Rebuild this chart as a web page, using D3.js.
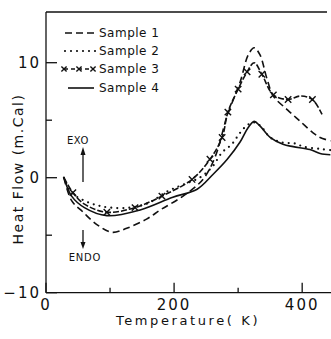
<!DOCTYPE html>
<html>
<head>
<meta charset="utf-8">
<script src="https://cdn.jsdelivr.net/npm/d3@7"></script>
<style>
  body { margin: 0; background: #fff; }
  svg text { font-family: "DejaVu Sans", sans-serif; fill: #111; }
</style>
</head>
<body>
<div id="chart"></div>
<script>
// temperatures (K) and heat flow (m.Cal)
let temp1 = [28, 40, 58, 80, 103, 126, 157, 180, 214, 245, 264, 283, 303, 316, 325, 334, 345, 355, 377, 397, 417, 428, 444];
let flow1 = [0, -2.0, -3.0, -4.1, -4.75, -4.4, -3.6, -2.75, -1.6, -0.15, 1.8, 5.4, 8.3, 10.7, 11.3, 10.7, 8.6, 7.1, 5.9, 4.9, 3.9, 3.5, 3.2];

let temp2 = [28, 40, 60, 80, 100, 130, 160, 189, 214, 240, 259, 275, 290, 303, 315, 325, 335, 350, 368, 389, 402, 428, 444];
let flow2 = [0, -1.3, -2.0, -2.4, -2.6, -2.6, -2.2, -1.2, -0.6, 0.0, 0.9, 2.2, 2.9, 3.9, 4.6, 4.8, 4.5, 3.5, 3.07, 2.97, 2.7, 2.5, 2.4];

let temp3 = [28, 42, 60, 95, 139, 181, 228, 256, 275, 284, 300, 314, 325, 337, 355, 378, 397, 416, 431];
let flow3 = [0, -1.3, -2.3, -3.0, -2.6, -1.6, -0.15, 1.6, 3.5, 5.7, 7.7, 9.2, 10.0, 9.0, 7.2, 6.8, 7.1, 6.8, 5.5];
let marked3 = [0, 1, 0, 1, 1, 1, 1, 1, 1, 1, 1, 1, 0, 1, 1, 1, 0, 1, 0];

let temp4 = [28, 40, 60, 95, 147, 198, 236, 261, 283, 303, 315, 325, 334, 350, 370, 386, 412, 428, 444];
let flow4 = [0, -1.6, -2.6, -3.3, -2.8, -1.7, -1.0, 0.3, 1.6, 3.1, 4.3, 4.9, 4.5, 3.5, 2.9, 2.7, 2.45, 2.1, 2.0];

let xMajor = [0, 200, 400],
    xMinor = [100, 300],
    yMajor = [-10, 0, 10],
    yMinor = [-5, 5];

let legendNames = ['Sample 1', 'Sample 2', 'Sample 3', 'Sample 4'];

let width = 331, height = 339;
let margin = {left: 46, top: 12, right: 0, bottom: 46};

let svg = d3.select('#chart').append('svg')
    .attr('width', width)
    .attr('height', height);

let x = d3.scaleLinear().domain([0, 445]).range([margin.left, width - margin.right]);
let y = d3.scaleLinear().domain([-10, 10]).range([292.7, 62.7]);

let toPts = (t, v) => t.map((d, i) => ({t: d, v: v[i], i: i}));

let line = d3.line()
    .x(d => x(d.t))
    .y(d => y(d.v))
    .curve(d3.curveCatmullRom.alpha(0.5));

let axis_g = svg.append('g').attr('stroke', '#111').attr('stroke-width', 1.3);

// left axis and top frame line
axis_g.append('line')
    .attr('x1', x(0)).attr('x2', x(0))
    .attr('y1', margin.top).attr('y2', y(-10));
axis_g.append('line')
    .attr('x1', x(0)).attr('x2', width - 4)
    .attr('y1', margin.top).attr('y2', margin.top);
axis_g.append('line')
    .attr('x1', x(0)).attr('x2', width)
    .attr('y1', y(-10)).attr('y2', y(-10));

axis_g.selectAll('.ymaj').data(yMajor).join('line')
    .attr('x1', x(0)).attr('x2', x(0) + 11)
    .attr('y1', d => y(d)).attr('y2', d => y(d));
axis_g.selectAll('.ymin').data(yMinor).join('line')
    .attr('x1', x(0)).attr('x2', x(0) + 6)
    .attr('y1', d => y(d)).attr('y2', d => y(d));
axis_g.selectAll('.xmaj').data(xMajor).join('line')
    .attr('x1', d => x(d)).attr('x2', d => x(d))
    .attr('y1', y(-10)).attr('y2', y(-10) - 10);
axis_g.selectAll('.xmin').data(xMinor).join('line')
    .attr('x1', d => x(d)).attr('x2', d => x(d))
    .attr('y1', y(-10)).attr('y2', y(-10) - 5);

svg.selectAll('.xlab').data(xMajor).join('text')
    .attr('x', d => x(d))
    .attr('y', 309.5)
    .attr('text-anchor', 'middle')
    .style('font-size', '15px')
    .style('letter-spacing', '2px')
    .text(d => d);

svg.selectAll('.ylab').data(yMajor).join('text')
    .attr('x', x(0) - 5)
    .attr('y', d => y(d) + 5.5)
    .attr('text-anchor', 'end')
    .style('font-size', '15px')
    .style('letter-spacing', '2px')
    .text(d => d === -10 ? '\u221210' : d);

svg.append('text')
    .attr('x', 188)
    .attr('y', 324.5)
    .attr('text-anchor', 'middle')
    .style('font-size', '13px')
    .style('letter-spacing', '2.6px')
    .text('Temperature( K)');

svg.append('text')
    .attr('transform', `translate(23, 169) rotate(-90)`)
    .attr('text-anchor', 'middle')
    .style('font-size', '14px')
    .style('letter-spacing', '1.5px')
    .text('Heat Flow (m.Cal)');

// curves
let curve_g = svg.append('g')
    .attr('fill', 'none')
    .attr('stroke', '#111')
    .attr('stroke-width', 1.6);

curve_g.append('path')
    .attr('d', line(toPts(temp1, flow1)))
    .attr('stroke-dasharray', '7,4');
curve_g.append('path')
    .attr('d', line(toPts(temp2, flow2)))
    .attr('stroke-width', 2.2)
    .attr('stroke-linecap', 'round')
    .attr('stroke-dasharray', '0,6');
curve_g.append('path')
    .attr('d', line(toPts(temp3, flow3)))
    .attr('stroke-dasharray', '6,2');
curve_g.append('path')
    .attr('d', line(toPts(temp4, flow4)));

// x markers of sample 3
let cross = (cx, cy, r) => `M${cx - r},${cy - r}L${cx + r},${cy + r}M${cx - r},${cy + r}L${cx + r},${cy - r}`;
curve_g.selectAll('.mark')
    .data(toPts(temp3, flow3).filter(d => marked3[d.i]))
    .join('path')
    .attr('class', 'mark')
    .attr('stroke-width', 1.4)
    .attr('d', d => cross(x(d.t), y(d.v), 3.2));

// legend
let leg_g = svg.append('g');
let legY = [33, 51, 69, 88];
leg_g.append('line').attr('x1', 65).attr('x2', 97).attr('y1', legY[0]).attr('y2', legY[0])
    .attr('stroke', '#111').attr('stroke-width', 1.6).attr('stroke-dasharray', '7,4');
leg_g.append('line').attr('x1', 65).attr('x2', 97).attr('y1', legY[1]).attr('y2', legY[1])
    .attr('stroke', '#111').attr('stroke-width', 2.2).attr('stroke-linecap', 'round').attr('stroke-dasharray', '0,6');
leg_g.append('line').attr('x1', 64).attr('x2', 94).attr('y1', legY[2]).attr('y2', legY[2])
    .attr('stroke', '#111').attr('stroke-width', 1.4).attr('stroke-dasharray', '4,3');
leg_g.selectAll('.lmark').data([64, 79, 93]).join('path')
    .attr('stroke', '#111').attr('stroke-width', 1.4)
    .attr('d', d => cross(d, legY[2], 2.6));
leg_g.append('line').attr('x1', 68).attr('x2', 94).attr('y1', legY[3]).attr('y2', legY[3])
    .attr('stroke', '#111').attr('stroke-width', 1.6);

leg_g.selectAll('.ltext').data(legendNames).join('text')
    .attr('x', 99)
    .attr('y', (d, i) => legY[i] + 4)
    .style('font-size', '12px')
    .style('letter-spacing', '0.5px')
    .text(d => d);

// EXO / ENDO arrows
let arrow_g = svg.append('g').attr('stroke', '#111').attr('fill', '#111');
arrow_g.append('line').attr('x1', 83).attr('x2', 83).attr('y1', 182).attr('y2', 152).attr('stroke-width', 1.3);
arrow_g.append('path').attr('d', 'M83,147L80.5,155L85.5,155Z').attr('stroke', 'none');
arrow_g.append('line').attr('x1', 83).attr('x2', 83).attr('y1', 230).attr('y2', 244).attr('stroke-width', 1.3);
arrow_g.append('path').attr('d', 'M83,249L80.5,242L85.5,242Z').attr('stroke', 'none');

svg.append('text').attr('x', 78).attr('y', 144).attr('text-anchor', 'middle')
    .style('font-size', '10px').style('letter-spacing', '0.5px').text('EXO');
svg.append('text').attr('x', 85).attr('y', 261).attr('text-anchor', 'middle')
    .style('font-size', '10px').style('letter-spacing', '0.8px').text('ENDO');
</script>
</body>
</html>
